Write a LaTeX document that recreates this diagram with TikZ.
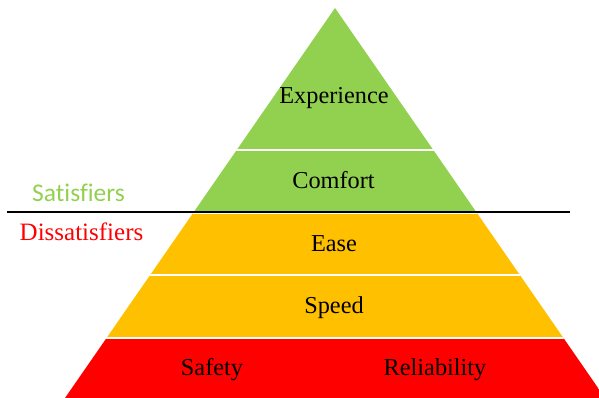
\documentclass[tikz,border=0pt]{standalone}
\usepackage{fontspec}
\setmainfont[Ligatures=NoCommon]{Liberation Serif}
\newfontfamily\tnr[Ligatures=NoCommon]{Liberation Serif}
\newfontfamily\calib[Ligatures=NoCommon]{Carlito}
\definecolor{pgreen}{HTML}{92D050}
\definecolor{pyellow}{HTML}{FFC000}
\definecolor{pred}{HTML}{FF0000}
\begin{document}
\begin{tikzpicture}[x=1pt,y=-1pt,
  lbl/.style={anchor=base,inner sep=0pt,font=\tnr\fontsize{24.3}{28}\selectfont},
  sidelbl/.style={anchor=base west,inner sep=0pt,font=\tnr\fontsize{25}{28}\selectfont},
  gap/.style={white,line width=2.4pt}]
\useasboundingbox (0,0) rectangle (599,398);
\coordinate (apex) at (335,8);
\coordinate (bl) at (65,398);
\coordinate (br) at (605,398);
\begin{scope}
  \clip (apex) -- (bl) -- (br) -- cycle;
  \fill[pgreen] (0,0) rectangle (610,212);
  \fill[pyellow] (0,212) rectangle (610,338);
  \fill[pred] (0,338) rectangle (610,400);
  \draw[gap] (0,150.3) -- (610,150.3);
  \draw[gap] (0,212.5) -- (610,212.5);
  \draw[gap] (0,275) -- (610,275);
  \draw[gap] (0,338) -- (610,338);
\end{scope}
\coordinate (ls) at (7,211.7);
\coordinate (le) at (570,211.7);
\draw[black,line width=2pt] (ls) -- (le);
\node[lbl] (exp) at (334,103.3) {Experience};
\node[lbl] (com) at (333.5,188.5) {Comfort};
\node[lbl] (ease) at (334,251.5) {Ease};
\node[lbl] (spd) at (334,313) {Speed};
\node[lbl] (saf) at (212,375.5) {Safety};
\node[lbl] (rel) at (435,375.5) {Reliability};
\node[sidelbl,text=pgreen,font=\calib\fontsize{25.5}{28}\selectfont] (sat) at (32,201.5) {Satisf\kern0pt iers};
\node[sidelbl,text=pred] (dis) at (19.5,240.7) {Dissatisf\kern0pt iers};
\end{tikzpicture}
\end{document}
